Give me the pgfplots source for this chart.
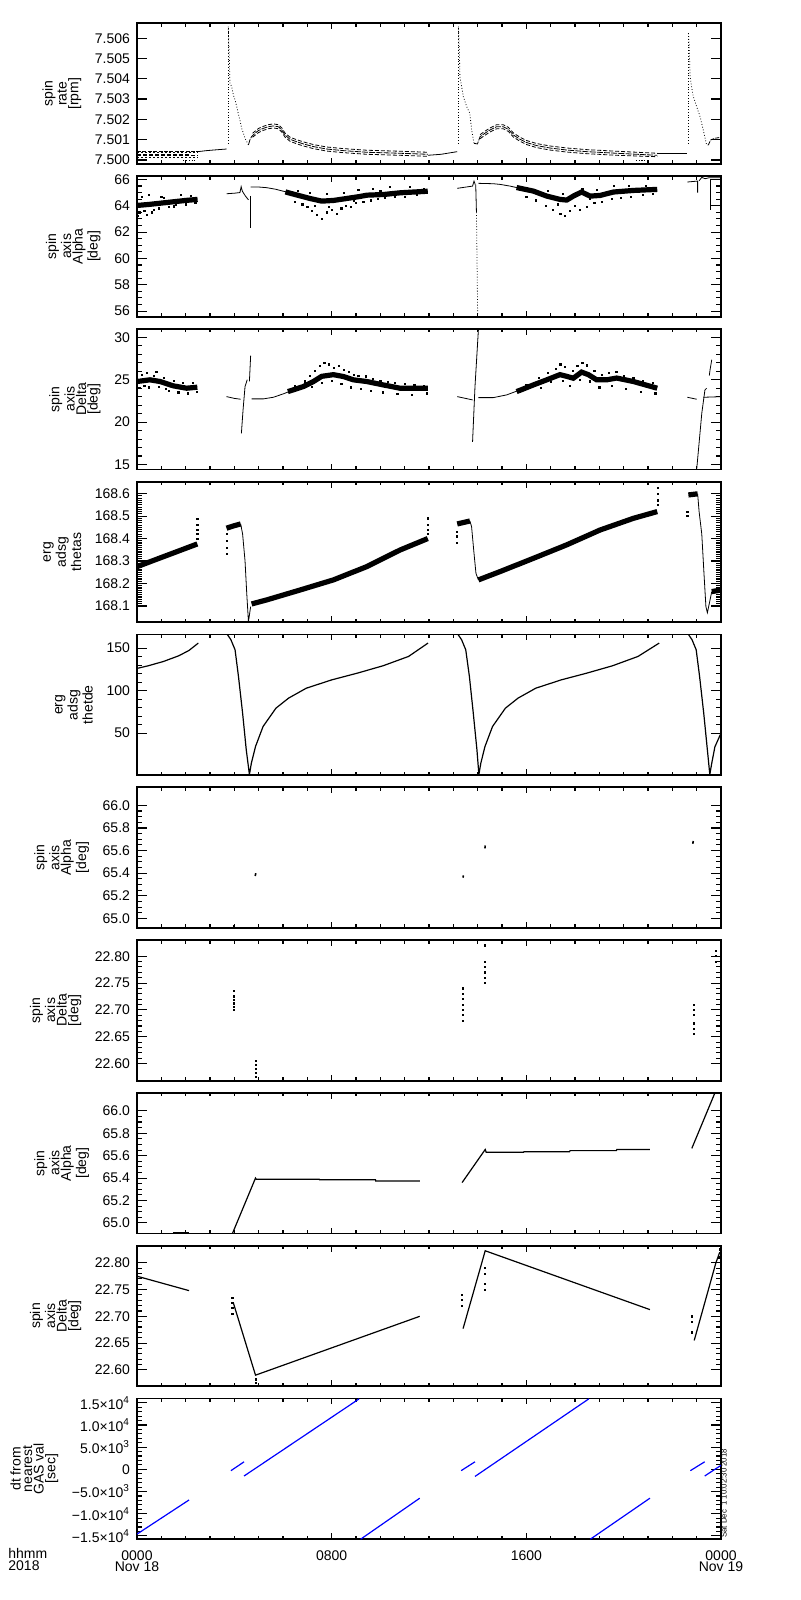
\documentclass[border=0pt]{standalone}
\usepackage{fontspec}
\setmainfont{Liberation Sans}
\usepackage{pgfplots}
\pgfplotsset{compat=1.18}
\newcommand\tf{\fontsize{7}{5.8}\selectfont}
\pgfplotsset{
 panel/.style={
  scale only axis, width=292pt, height=70.35pt, anchor=south west,
  xmin=0, xmax=24, xtick={0,8,16,24}, minor x tick num=7, xticklabels={},
  tick align=inside, axis line style={line width=0.9pt},
  major tick length=5pt, minor tick length=2.5pt,
  tick style={black, line width=0.55pt},
  xtick style={/pgfplots/major tick length=3pt, /pgfplots/minor tick length=1.8pt},
  ticklabel style={font=\tf},
  ylabel style={font=\tf, align=center},
  scaled y ticks=false,
  cycle list={{black, solid, mark=none, line width=0.5pt}},
  /pgf/number format/assume math mode=true,
 },
 band/.style={black, line width=2.6pt},
 dots/.style={black, only marks, mark=square*, mark size=0.3pt},
}
\begin{document}
\begin{tikzpicture}
\path[use as bounding box, fill=white] (0,0) rectangle (400pt,800pt);

% ---------- panel 1 : spin rate
\begin{axis}[panel, at={(68.5pt,718pt)},
 y coord trafo/.code={\pgfmathparse{(#1-7.5)*10000}},
 ymin=7.4998, ymax=7.50675,
 ytick={7.500,7.501,7.502,7.503,7.504,7.505,7.506},
 yticklabels={7.500,7.501,7.502,7.503,7.504,7.505,7.506},
 minor y tick num=9, ylabel={spin\\rate\\{[rpm]}}]
\addplot[black, dash pattern=on 2pt off 0.7pt] coordinates {(0,7.50041)(2.49,7.50041)};
\addplot[black, dash pattern=on 1pt off 1pt] coordinates {(0,7.50035)(2.49,7.50035)};
\addplot[black, dash pattern=on 2pt off 1pt] coordinates {(0,7.50028)(2.2,7.50028)};
\addplot[black, dash pattern=on 2pt off 1pt] coordinates {(0,7.50021)(2.49,7.50021)};
\addplot[black, dash pattern=on 1pt off 1pt] coordinates {(0,7.50015)(2.49,7.50015)};
\addplot[black, dash pattern=on 0.6pt off 0.8pt] coordinates {(1.9,7.49997)(2.4,7.49997)};
\addplot[black] coordinates {(2.49,7.50041)(2.86,7.50046)(3.14,7.50049)(3.68,7.50054)};
\addplot[black, densely dotted] coordinates {(3.75,7.50082)(3.75,7.50658)};
\addplot[black, densely dotted] coordinates {(3.75,7.50658)(3.79,7.50518)(3.82,7.50378)(3.89,7.50362)(3.96,7.50321)(4.03,7.50296)(4.10,7.50263)(4.16,7.50230)(4.23,7.50197)(4.30,7.50156)(4.37,7.50132)(4.44,7.50107)(4.58,7.50074)};
\addplot[black, dash pattern=on 3pt off 0.6pt] coordinates {(4.58,7.50074)(4.64,7.50099)(4.71,7.50115)(4.85,7.50132)(4.99,7.50145)(5.19,7.50156)(5.40,7.50164)(5.60,7.50168)(5.81,7.50164)(5.95,7.50148)(6.08,7.50123)(6.29,7.50102)(6.56,7.50090)(6.84,7.50079)(7.25,7.50066)(7.79,7.50054)(8.48,7.50046)(9.44,7.50038)(10.81,7.50033)(11.95,7.50028)};
\addplot[black, dash pattern=on 2pt off 1pt] coordinates {(4.75,7.50132)(4.99,7.50155)(5.19,7.50166)(5.40,7.50174)(5.60,7.50178)(5.81,7.50174)(5.95,7.50158)(6.08,7.50133)(6.29,7.50112)(6.56,7.50100)(6.84,7.50089)(7.25,7.50076)(7.79,7.50064)(8.48,7.50056)(9.44,7.50048)(10.81,7.50043)(11.95,7.50038)};
\addplot[black, dash pattern=on 2pt off 1pt] coordinates {(4.75,7.50112)(4.99,7.50135)(5.19,7.50146)(5.40,7.50154)(5.60,7.50158)(5.81,7.50154)(5.95,7.50138)(6.08,7.50113)(6.29,7.50092)(6.56,7.50080)(6.84,7.50069)(7.25,7.50056)(7.79,7.50044)(8.48,7.50036)(9.44,7.50028)(10.81,7.50023)(11.95,7.50018)};
\addplot[black] coordinates {(11.95,7.50023)(12.5,7.50028)(13.16,7.50041)};
\addplot[black, densely dotted] coordinates {(13.21,7.50082)(13.21,7.50658)};
\addplot[black, densely dotted] coordinates {(13.21,7.50658)(13.25,7.50526)(13.27,7.50411)(13.34,7.50362)(13.41,7.50313)(13.55,7.50263)(13.68,7.50230)(13.75,7.50148)(13.85,7.50082)};
\addplot[black, dash pattern=on 3pt off 0.6pt] coordinates {(13.85,7.50082)(13.99,7.50079)(14.10,7.50115)(14.30,7.50132)(14.51,7.50148)(14.78,7.50164)(15.05,7.50164)(15.26,7.50151)(15.47,7.50123)(15.74,7.50102)(16.01,7.50086)(16.42,7.50071)(16.97,7.50059)(17.66,7.50049)(18.48,7.50041)(19.71,7.50033)(21.38,7.50023)};
\addplot[black, dash pattern=on 2pt off 1pt] coordinates {(14.10,7.50125)(14.30,7.50142)(14.51,7.50158)(14.78,7.50174)(15.05,7.50174)(15.26,7.50161)(15.47,7.50133)(15.74,7.50112)(16.01,7.50096)(16.42,7.50081)(16.97,7.50069)(17.66,7.50059)(18.48,7.50051)(19.71,7.50043)(21.38,7.50033)};
\addplot[black, dash pattern=on 2pt off 1pt] coordinates {(14.10,7.50105)(14.30,7.50122)(14.51,7.50138)(14.78,7.50154)(15.05,7.50154)(15.26,7.50141)(15.47,7.50113)(15.74,7.50092)(16.01,7.50076)(16.42,7.50061)(16.97,7.50049)(17.66,7.50039)(18.48,7.50031)(19.71,7.50023)(21.38,7.50016)};
\addplot[black, dash pattern=on 0.6pt off 0.8pt] coordinates {(20.5,7.49997)(21.0,7.49997)};
\addplot[black] coordinates {(21.38,7.50033)(22.62,7.50033)};
\addplot[black, densely dotted] coordinates {(22.66,7.50082)(22.66,7.50625)};
\addplot[black, densely dotted] coordinates {(22.66,7.50625)(22.69,7.50576)(22.73,7.50411)(22.79,7.50362)(22.86,7.50313)(23.0,7.50263)(23.14,7.50214)(23.27,7.50148)(23.41,7.50074)(23.48,7.50074)};
\addplot[black, dash pattern=on 2pt off 0.6pt] coordinates {(23.48,7.50074)(23.58,7.50099)(23.75,7.50107)(24,7.50112)};
\end{axis}

% ---------- panel 2 : alpha
\begin{axis}[panel, at={(68.5pt,641.6pt)},
 ymin=55.57, ymax=66.25, ytick={56,58,60,62,64,66}, yticklabels={56,58,60,62,64,66},
 minor y tick num=3, ylabel={spin\\axis\\Alpha\\{[deg]}}]
\addplot[band] coordinates {(0,64.02)(0.5,64.1)(1.0,64.2)(1.5,64.3)(2.0,64.4)(2.49,64.48)};
\addplot[dots] coordinates {(0.05,63.2)(0.1,63.5)(0.2,64.7)(0.3,63.6)(0.4,63.3)(0.5,64.8)(0.6,63.5)(0.7,63.7)(0.9,63.8)(1.0,64.65)(1.1,64.6)(1.3,63.9)(1.5,63.95)(1.6,64.1)(1.8,64.8)(2.0,64.1)(2.2,64.75)(2.4,64.2)};
\addplot[black] coordinates {(3.68,64.91)(4.0,64.95)(4.23,65.0)(4.28,65.45)(4.33,65.1)(4.45,64.75)(4.58,64.45)};
\addplot[black] coordinates {(4.67,64.75)(4.67,62.3)};
\addplot[black] coordinates {(4.67,65.42)(5.0,65.42)(5.33,65.37)(5.7,65.25)(5.99,65.11)(6.29,64.99)};
\addplot[band] coordinates {(6.1,65.05)(6.29,64.95)(6.70,64.75)(7.11,64.55)(7.59,64.35)(8.07,64.4)(8.62,64.55)(9.16,64.7)(9.44,64.8)(10.12,64.85)(10.81,64.98)(11.95,65.1)};
\addplot[dots] coordinates {(6.5,64.3)(6.8,64.1)(7.0,63.9)(7.2,63.6)(7.4,63.3)(7.6,63.0)(7.8,63.5)(8.0,63.7)(8.2,63.4)(8.4,63.8)(8.6,64.0)(8.8,63.9)(9.0,64.2)(9.3,64.3)(9.6,64.4)(9.9,64.5)(10.2,64.6)(10.6,64.7)(11.0,64.7)(11.5,64.8)(6.6,65.1)(7.1,65.0)(7.8,64.9)(8.5,65.0)(9.1,65.2)(9.7,65.3)(10.4,65.4)(11.2,65.4)(11.8,65.3)(7.3,64.0)(7.9,63.9)(8.9,64.4)(10.0,65.1)};
\addplot[black] coordinates {(13.16,65.32)(13.79,65.49)(13.85,65.87)(13.9,65.6)};
\addplot[black] coordinates {(13.92,65.6)(13.95,63.5)};
\addplot[black, densely dotted] coordinates {(13.95,63.5)(14.0,55.8)};
\addplot[black] coordinates {(14.03,65.70)(14.64,65.67)(14.92,65.62)(15.33,65.49)(15.74,65.32)};
\addplot[band] coordinates {(15.6,65.38)(16.29,65.11)(16.84,64.73)(17.38,64.48)(17.66,64.43)(17.93,64.73)(18.27,65.04)(18.62,64.73)(19.03,64.78)(19.58,65.04)(20.40,65.16)(21.38,65.24)};
\addplot[dots] coordinates {(16.0,64.7)(16.4,64.4)(16.8,64.0)(17.1,63.7)(17.4,63.4)(17.6,63.2)(17.8,63.6)(18.0,64.0)(18.2,63.7)(18.5,63.9)(18.8,64.2)(19.1,64.3)(19.5,64.5)(19.9,64.6)(20.3,64.7)(20.8,64.8)(21.2,64.9)(16.2,65.3)(16.9,65.1)(17.5,64.9)(18.3,65.3)(18.9,65.2)(19.6,65.5)(20.2,65.5)(20.9,65.5)(17.3,64.1)(18.6,64.5)};
\addplot[black] coordinates {(22.62,65.80)(23.04,65.87)(23.04,64.99)};
\addplot[black] coordinates {(23.1,65.9)(23.21,66.15)(23.35,66.05)(23.5,66.12)(23.62,66.13)(24,66.13)};
\addplot[black] coordinates {(23.55,66.0)(23.55,63.7)};
\end{axis}

% ---------- panel 3 : delta
\begin{axis}[panel, at={(68.5pt,565.2pt)},
 ymin=14.4, ymax=31.0, ytick={15,20,25,30}, yticklabels={15,20,25,30},
 minor y tick num=4, ylabel={spin\\axis\\Delta\\{[deg]}}]
\addplot[band] coordinates {(0,24.79)(0.53,24.99)(0.95,24.79)(1.49,24.28)(2.04,24.0)(2.48,24.12)};
\addplot[dots] coordinates {(0.1,24.0)(0.2,25.6)(0.4,25.8)(0.5,24.1)(0.7,25.5)(0.9,24.2)(1.1,25.2)(1.3,23.7)(1.5,24.9)(1.7,23.5)(1.9,24.6)(2.1,23.4)(2.3,24.6)(2.45,23.6)(0.3,24.3)(0.8,25.9)(1.2,23.9)};
\addplot[black] coordinates {(3.68,23.01)(4.0,22.8)(4.26,22.70)};
\addplot[black] coordinates {(4.29,18.67)(4.36,21.5)(4.44,24.2)(4.53,25.0)};
\addplot[black] coordinates {(4.62,24.8)(4.67,27.83)};
\addplot[black] coordinates {(4.71,22.74)(5.19,22.74)(5.60,22.93)(6.01,23.33)(6.42,23.80)};
\addplot[band] coordinates {(6.2,23.6)(6.84,24.2)(7.25,24.79)(7.59,25.4)(8.07,25.6)(8.48,25.38)(8.89,24.99)(9.44,24.79)(10.12,24.39)(10.81,24.0)(11.95,24.0)};
\addplot[dots] coordinates {(6.5,24.3)(6.9,24.8)(7.1,25.5)(7.3,26.0)(7.5,26.6)(7.7,27.0)(7.9,26.8)(8.1,26.4)(8.3,26.6)(8.5,26.2)(8.7,25.9)(8.9,25.6)(9.1,25.5)(9.4,25.4)(9.7,25.1)(10.0,24.9)(10.3,24.7)(10.6,24.6)(11.0,24.5)(11.4,24.4)(11.8,24.3)(7.2,24.2)(7.6,24.6)(8.0,24.9)(8.4,24.5)(8.8,24.1)(9.2,23.9)(9.6,23.7)(10.1,23.5)(10.7,23.3)(11.3,23.2)(11.9,23.4)};
\addplot[black] coordinates {(13.16,23.01)(13.79,22.62)};
\addplot[black] coordinates {(13.79,17.68)(13.89,24.2)(14.03,30.9)};
\addplot[black] coordinates {(14.03,22.89)(14.64,22.89)(15.19,23.21)(15.74,23.80)};
\addplot[band] coordinates {(15.6,23.6)(16.29,24.39)(16.84,24.99)(17.38,25.6)(17.66,25.4)(17.93,25.18)(18.27,25.9)(18.55,25.6)(18.89,24.99)(19.30,24.99)(19.71,25.2)(20.40,24.79)(21.38,24.0)};
\addplot[dots] coordinates {(16.0,24.4)(16.5,25.2)(16.9,25.8)(17.2,26.3)(17.4,26.8)(17.6,26.5)(17.9,26.0)(18.1,26.6)(18.3,27.0)(18.5,26.7)(18.8,26.0)(19.1,25.6)(19.4,25.8)(19.7,25.9)(20.0,25.5)(20.4,25.2)(20.8,24.9)(21.2,24.6)(16.6,24.0)(17.0,24.7)(17.5,24.9)(17.8,24.3)(18.2,25.0)(18.6,24.8)(19.0,24.1)(19.5,24.3)(20.1,23.9)(20.7,23.6)(21.3,23.4)};
\addplot[black] coordinates {(22.62,22.93)(23.0,22.70)};
\addplot[black] coordinates {(23.0,14.4)(23.21,21.04)(23.34,23.80)(23.41,24.0)};
\addplot[black] coordinates {(23.52,25.5)(23.55,26.17)(23.62,27.36)};
\addplot[black] coordinates {(23.27,22.93)(23.99,23.0)};
\end{axis}

% ---------- panel 4 : thetas
\begin{axis}[panel, at={(68.5pt,488.8pt)},
 ymin=168.027, ymax=168.653, ytick={168.1,168.2,168.3,168.4,168.5,168.6},
 yticklabels={168.1,168.2,168.3,168.4,168.5,168.6},
 minor y tick num=9, ylabel={erg\\adsg\\thetas}]
\addplot[band] coordinates {(0,168.275)(2.48,168.376)};
\addplot[dots] coordinates {(2.48,168.40)(2.48,168.42)(2.48,168.44)(2.48,168.46)(2.48,168.487)};
\addplot[dots] coordinates {(3.68,168.33)(3.68,168.36)(3.68,168.39)(3.68,168.42)};
\addplot[band] coordinates {(3.68,168.446)(3.96,168.456)(4.26,168.465)};
\addplot[black] coordinates {(4.26,168.465)(4.34,168.42)(4.44,168.30)(4.51,168.156)(4.58,168.03)(4.67,168.097)};
\addplot[band] coordinates {(4.71,168.109)(5.33,168.127)(6.70,168.171)(8.07,168.216)(9.44,168.275)(10.81,168.349)(11.95,168.40)};
\addplot[dots] coordinates {(11.95,168.42)(11.95,168.44)(11.95,168.46)(11.95,168.49)};
\addplot[dots] coordinates {(13.16,168.38)(13.16,168.41)(13.16,168.43)};
\addplot[band] coordinates {(13.16,168.465)(13.68,168.478)};
\addplot[black] coordinates {(13.68,168.478)(13.75,168.453)(13.85,168.334)(13.93,168.245)(14.03,168.216)};
\addplot[band] coordinates {(14.03,168.216)(14.92,168.253)(16.29,168.312)(17.66,168.372)(19.03,168.438)(20.40,168.49)(21.38,168.52)};
\addplot[dots] coordinates {(21.4,168.55)(21.4,168.57)(21.4,168.6)(21.4,168.624)};
\addplot[dots] coordinates {(22.62,168.5)(22.62,168.52)};
\addplot[band] coordinates {(22.66,168.594)(23.04,168.599)};
\addplot[black] coordinates {(23.04,168.599)(23.1,168.52)(23.21,168.42)(23.30,168.245)(23.38,168.097)(23.44,168.07)(23.55,168.127)(23.62,168.164)};
\addplot[band] coordinates {(23.62,168.164)(24,168.171)};
\end{axis}

% ---------- panel 5 : thetde
\begin{axis}[panel, at={(68.5pt,412.4pt)},
 ymin=0.6, ymax=166, ytick={50,100,150}, yticklabels={50,100,150},
 minor y tick num=4, ylabel={erg\\adsg\\thetde}]
\addplot[black, line width=0.6pt] coordinates {(0,126.1)(0.46,129.2)(1.09,134.3)(1.72,141.0)(2.14,147.3)(2.52,155.9)};
\addplot[black, line width=0.6pt] coordinates {(3.71,166.1)(3.86,159.8)(4.03,148.0)(4.17,116.7)(4.34,73.5)(4.49,30.4)(4.62,1.4)(4.70,14.7)(4.87,34.3)(5.18,57.8)(5.71,79.4)(6.23,91.2)(6.96,102.9)(8.01,112.7)(9.06,120.6)(10.11,129.2)(11.16,140.2)(11.96,155.9)};
\addplot[black, line width=0.6pt] coordinates {(13.19,166.1)(13.34,159.8)(13.51,148.0)(13.66,116.7)(13.82,73.5)(13.97,30.4)(14.05,1.4)(14.13,14.7)(14.30,34.3)(14.61,57.8)(15.14,79.4)(15.66,91.2)(16.39,102.9)(17.44,112.7)(18.49,120.6)(19.54,129.2)(20.59,140.2)(21.46,155.9)};
\addplot[black, line width=0.6pt] coordinates {(22.66,166.1)(22.81,159.8)(22.98,148.0)(23.12,116.7)(23.29,73.5)(23.44,30.4)(23.54,1.4)(23.62,14.7)(23.75,34)(24,50)};
\end{axis}

% ---------- panel 6 : alpha only
\begin{axis}[panel, at={(68.5pt,336pt)},
 ymin=64.915, ymax=66.16, ytick={65.0,65.2,65.4,65.6,65.8,66.0},
 yticklabels={65.0,65.2,65.4,65.6,65.8,66.0},
 minor y tick num=3, ylabel={spin\\axis\\Alpha\\{[deg]}}]
\addplot[black, line width=0.8pt] coordinates {(4.86,65.375)(4.88,65.400)};
\addplot[black, line width=0.8pt] coordinates {(13.40,65.360)(13.41,65.380)};
\addplot[black, line width=0.8pt] coordinates {(14.30,65.620)(14.31,65.645)};
\addplot[black, line width=0.8pt] coordinates {(22.84,65.660)(22.86,65.685)};
\addplot[dots] coordinates {(3.97,64.93)};
\node[anchor=north west, align=left, inner sep=0pt, font=\tf, xshift=4.9pt] at (rel axis cs:1,0.57) {\hspace{3.5pt}only\\for\\5000\\−5500km};
\end{axis}

% ---------- panel 7 : delta only
\begin{axis}[panel, at={(68.5pt,259.6pt)},
 ymin=22.568, ymax=22.830, ytick={22.60,22.65,22.70,22.75,22.80},
 yticklabels={22.60,22.65,22.70,22.75,22.80},
 minor y tick num=4, ylabel={spin\\axis\\Delta\\{[deg]}}]
\addplot[dots] coordinates {(3.97,22.700)(3.97,22.705)(3.97,22.712)(3.97,22.718)(3.97,22.725)(3.97,22.735)
 (4.87,22.575)(4.87,22.582)(4.87,22.590)(4.87,22.597)(4.87,22.605)
 (13.40,22.68)(13.40,22.69)(13.40,22.70)(13.40,22.71)(13.40,22.72)(13.40,22.73)(13.40,22.74)
 (14.30,22.75)(14.30,22.76)(14.30,22.77)(14.30,22.78)(14.30,22.79)(14.30,22.82)
 (22.87,22.655)(22.87,22.665)(22.87,22.675)(22.87,22.69)(22.87,22.70)(22.87,22.71)
 (23.80,22.79)(23.80,22.80)(23.80,22.81)};
\node[anchor=north west, align=left, inner sep=0pt, font=\tf, xshift=4.9pt] at (rel axis cs:1,0.57) {\hspace{3.5pt}only\\for\\5000\\−5500km};
\end{axis}

% ---------- panel 8 : alpha interpolated
\begin{axis}[panel, at={(68.5pt,183.2pt)},
 ymin=64.905, ymax=66.16, ytick={65.0,65.2,65.4,65.6,65.8,66.0},
 yticklabels={65.0,65.2,65.4,65.6,65.8,66.0},
 minor y tick num=3, ylabel={spin\\axis\\Alpha\\{[deg]}}]
\addplot[black, line width=1pt] coordinates {(1.47,64.913)(2.14,64.913)};
\addplot[black, line width=0.6pt] coordinates {(3.92,64.905)(4.87,65.40)(4.9,65.39)(7.49,65.39)(7.5,65.385)(9.8,65.385)(9.81,65.375)(11.62,65.375)};
\addplot[black, line width=0.6pt] coordinates {(13.36,65.36)(14.31,65.655)(14.35,65.63)(15.88,65.63)(15.9,65.635)(17.77,65.635)(17.8,65.645)(19.7,65.645)(19.72,65.655)(21.08,65.655)};
\addplot[black, line width=0.6pt] coordinates {(22.8,65.665)(23.75,66.16)(24,66.16)};
\node[anchor=west, inner sep=0pt, font=\tf, xshift=1pt] at (rel axis cs:1,0.44) {interpolated};
\end{axis}

% ---------- panel 9 : delta interpolated
\begin{axis}[panel, at={(68.5pt,106.8pt)},
 ymin=22.569, ymax=22.832, ytick={22.60,22.65,22.70,22.75,22.80},
 yticklabels={22.60,22.65,22.70,22.75,22.80},
 minor y tick num=4, ylabel={spin\\axis\\Delta\\{[deg]}}]
\addplot[black, line width=0.6pt] coordinates {(0,22.775)(2.14,22.748)};
\addplot[dots] coordinates {(3.92,22.735)(3.92,22.725)(3.92,22.715)(3.92,22.705)(4.87,22.575)(4.87,22.582)};
\addplot[black, line width=0.6pt] coordinates {(3.96,22.725)(4.87,22.59)(11.62,22.70)};
\addplot[dots] coordinates {(13.36,22.74)(13.36,22.73)(13.36,22.72)(14.3,22.75)(14.3,22.76)(14.3,22.78)(14.3,22.79)};
\addplot[black, line width=0.6pt] coordinates {(13.4,22.677)(14.31,22.8225)(21.08,22.7125)};
\addplot[dots] coordinates {(22.8,22.70)(22.8,22.69)(22.8,22.67)(23.9,22.81)(23.95,22.825)};
\addplot[black, line width=0.6pt] coordinates {(22.9,22.655)(23.79,22.80)(23.95,22.82)};
\node[anchor=west, inner sep=0pt, font=\tf, xshift=1pt] at (rel axis cs:1,0.436) {interpolated};
\end{axis}

% ---------- panel 10 : dt
\begin{axis}[panel, at={(68.5pt,30.4pt)},
 ymin=-15750, ymax=15975, ytick={-15000,-10000,-5000,0,5000,10000,15000},
 yticklabels={−1.5×10\textsuperscript{4},−1.0×10\textsuperscript{4},−5.0×10\textsuperscript{3},0,5.0×10\textsuperscript{3},1.0×10\textsuperscript{4},1.5×10\textsuperscript{4}},
 minor y tick num=4, ylabel={dt from\\nearest\\GAS val\\{[sec]}},
 xticklabels={0000\\Nov 18,0800,1600,0000\\Nov 19},
 xticklabel style={align=center, yshift=-2pt}]
\addplot[blue, line width=0.6pt] coordinates {(0,-14600)(2.14,-6900)};
\addplot[blue, line width=0.6pt] coordinates {(3.86,-300)(4.40,1700)};
\addplot[blue, line width=0.6pt] coordinates {(4.40,-1500)(9.13,15900)};
\addplot[blue, line width=0.6pt] coordinates {(9.19,-15750)(11.62,-6500)};
\addplot[blue, line width=0.6pt] coordinates {(13.32,-300)(13.89,1700)};
\addplot[blue, line width=0.6pt] coordinates {(13.89,-1600)(18.57,15900)};
\addplot[blue, line width=0.6pt] coordinates {(18.63,-15750)(21.08,-6500)};
\addplot[blue, line width=0.6pt] coordinates {(22.74,-300)(23.33,1700)};
\addplot[blue, line width=0.6pt] coordinates {(23.33,-1500)(24,900)};
\end{axis}

\node[anchor=north west, align=left, inner sep=0pt, font=\tf] at (4pt,26pt) {hhmm\\2018};
\node[rotate=90, anchor=south west, inner sep=0pt, font=\fontsize{3.9}{4}\selectfont] at (363.5pt,31pt) {Sat Dec\ \ 1 10:02:30 2018};
\end{tikzpicture}
\end{document}
